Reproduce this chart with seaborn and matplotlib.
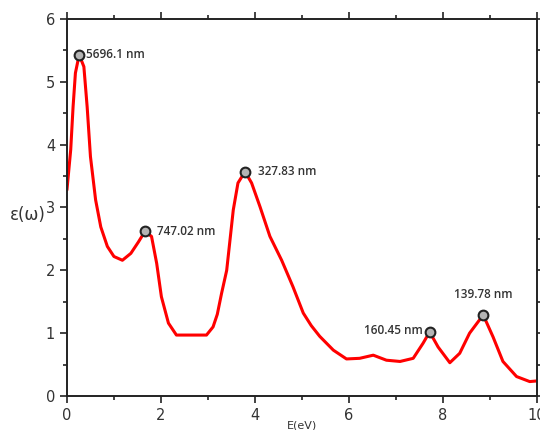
import numpy as np
import pandas as pd
import seaborn as sns
import matplotlib.pyplot as plt

# values
energy = [0.0, 0.04, 0.08, 0.13, 0.18, 0.26, 0.36, 0.43, 0.50, 0.61, 0.72, 0.86,
          1.00, 1.18, 1.36, 1.52, 1.66, 1.80, 1.91, 2.01, 2.16, 2.33, 2.62, 2.97,
          3.11, 3.20, 3.29, 3.40, 3.54, 3.64, 3.79, 3.93, 4.11, 4.32, 4.57, 4.81,
          5.03, 5.20, 5.38, 5.67, 5.95, 6.23, 6.52, 6.80, 7.09, 7.37, 7.58, 7.72,
          7.90, 8.15, 8.36, 8.57, 8.86, 9.07, 9.28, 9.57, 9.85, 10.0]
eps = [3.28, 3.60, 3.92, 4.60, 5.14, 5.43, 5.24, 4.60, 3.81, 3.12, 2.69, 2.38,
       2.22, 2.16, 2.27, 2.45, 2.62, 2.54, 2.11, 1.58, 1.16, 0.97, 0.97, 0.97,
       1.10, 1.30, 1.63, 2.00, 2.96, 3.39, 3.57, 3.39, 3.01, 2.54, 2.16, 1.74,
       1.32, 1.12, 0.95, 0.73, 0.59, 0.60, 0.65, 0.57, 0.55, 0.60, 0.84, 1.02,
       0.78, 0.53, 0.68, 1.00, 1.29, 0.94, 0.55, 0.31, 0.23, 0.24]

peak_x = [0.26, 1.66, 3.79, 7.72, 8.86]
peak_y = [5.43, 2.62, 3.57, 1.02, 1.29]
peak_labels = ['5696.1 nm', '747.02 nm', '327.83 nm', '160.45 nm', '139.78 nm']

df = pd.DataFrame({'E': energy, 'eps': eps})

sns.set_style('ticks')
fig = plt.figure(figsize=(5.4, 4.3), dpi=100)
ax = fig.add_axes([0.124, 0.079, 0.870, 0.877])

sns.lineplot(data=df, x='E', y='eps', color='red', linewidth=2.2, ax=ax)
ax.lines[0].set_solid_joinstyle('round')
ax.plot(peak_x, peak_y, 'o', markersize=7, markerfacecolor='#b4b4b4',
        markeredgecolor='#222222', markeredgewidth=1.5, zorder=5)

# label placement for each peak
offsets = [(5, 0), (9, 0), (9, 0), (-5, 1), (0, 10)]
aligns = [('left', 'center'), ('left', 'center'), ('left', 'center'),
          ('right', 'center'), ('center', 'bottom')]
for x, y, lab, off, al in zip(peak_x, peak_y, peak_labels, offsets, aligns):
    ax.annotate(lab, (x, y), xytext=off, textcoords='offset points',
                ha=al[0], va=al[1], fontsize=8.5, color='#333333',
                fontfamily='Open Sans', fontweight='semibold')

ax.set_xlim(0, 10)
ax.set_ylim(0, 6)
ax.set_xticks(range(0, 11, 2))
ax.set_xticks(range(1, 10, 2), minor=True)
ax.set_yticks(range(0, 7))
ax.set_yticks(np.arange(0.5, 6, 1), minor=True)

for s in ax.spines.values():
    s.set_linewidth(1.4)
    s.set_color('#222222')
ax.tick_params(which='both', direction='out', top=True, right=True,
               color='#222222', width=1.2, labelsize=10.5, labelcolor='#333333')
ax.tick_params(which='major', length=5)
ax.tick_params(which='minor', length=3)

ax.set_xlabel('E(eV)', fontsize=8, color='#333333', labelpad=-2)
ax.set_ylabel('')
fig.text(0.052, 0.5, 'ε(ω)', fontsize=12, color='#333333', ha='center', va='center')

fig.savefig('out.png', dpi=100)
